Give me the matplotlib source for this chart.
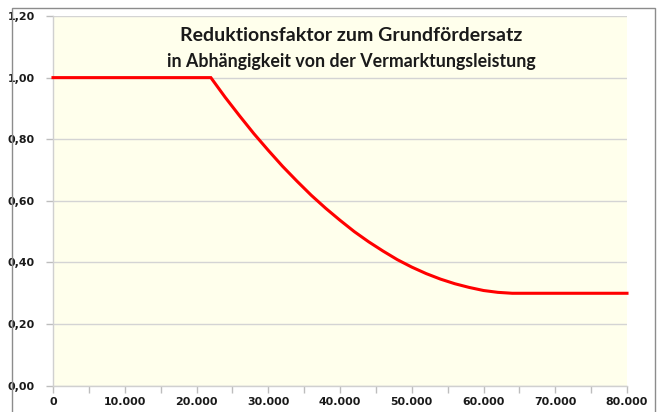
import matplotlib
matplotlib.use("Agg")
import matplotlib.pyplot as plt
from matplotlib.patches import Rectangle
from matplotlib.ticker import MultipleLocator, FuncFormatter

# Data
x_vals = [0, 22000, 24000, 26000, 28000, 30000, 32000, 34000, 36000, 38000,
          40000, 42000, 44000, 46000, 48000, 50000, 52000, 54000, 56000,
          58000, 60000, 62000, 64000, 65000, 80000]
y_vals = [1.00, 1.00, 0.936, 0.876, 0.818, 0.764, 0.712, 0.664, 0.618, 0.576,
          0.537, 0.500, 0.467, 0.437, 0.409, 0.385, 0.364, 0.346, 0.331,
          0.319, 0.309, 0.303, 0.300, 0.300, 0.300]
title_line1 = "Reduktionsfaktor zum Grundfördersatz"
title_line2 = "in Abhängigkeit von der Vermarktungsleistung"

W, H = 659, 412
fig = plt.figure(figsize=(W / 100, H / 100), dpi=100)
fig.patch.set_facecolor("white")

# chart border
fig.patches.append(Rectangle((12 / W, -0.05), (655 - 12) / W, (412 - 8) / H + 0.05,
                             transform=fig.transFigure, fill=False,
                             edgecolor="#8c8c8c", linewidth=1.0))

ax = fig.add_axes([53 / W, (H - 385.7) / H, (627 - 53) / W, (385.7 - 16) / H])
ax.set_facecolor("#FFFFEC")

ax.plot(x_vals, y_vals, color="#FF0000", linewidth=2.2, solid_joinstyle="miter",
        zorder=3, clip_on=False)

ax.set_xlim(0, 80000)
ax.set_ylim(0, 1.2)
ax.xaxis.set_major_locator(MultipleLocator(10000))
ax.xaxis.set_minor_locator(MultipleLocator(5000))
ax.yaxis.set_major_locator(MultipleLocator(0.2))

ax.xaxis.set_major_formatter(FuncFormatter(lambda v, p: f"{int(round(v)):,}".replace(",", ".")))
ax.yaxis.set_major_formatter(FuncFormatter(lambda v, p: f"{v:.2f}".replace(".", ",")))

ax.grid(axis="y", color="#d4d4d4", linewidth=1.0, zorder=1)
ax.set_axisbelow(True)
for s in ["top", "right"]:
    ax.spines[s].set_visible(False)
for s in ["left", "bottom"]:
    ax.spines[s].set_color("#d0d0d0")
    ax.spines[s].set_linewidth(1.0)

ax.tick_params(axis="both", which="both", color="#bdbdbd", length=5, width=1,
               direction="out")
ax.tick_params(axis="x", which="major", pad=3)
ax.tick_params(axis="y", which="major", pad=8)
for lab in ax.get_xticklabels() + ax.get_yticklabels():
    lab.set_fontfamily("DejaVu Sans")
    lab.set_fontweight("bold")
    lab.set_fontsize(7.9)
    lab.set_color("#1a1a1a")

ax.text(0.52, 0.946, title_line1, transform=ax.transAxes, ha="center", va="center",
        fontsize=14, fontweight="bold", family="Lato", color="#1a1a1a")
ax.text(0.52, 0.876, title_line2, transform=ax.transAxes, ha="center", va="center",
        fontsize=12.8, fontweight="bold", family="Lato", color="#1a1a1a")

fig.savefig("out.png", dpi=100)
